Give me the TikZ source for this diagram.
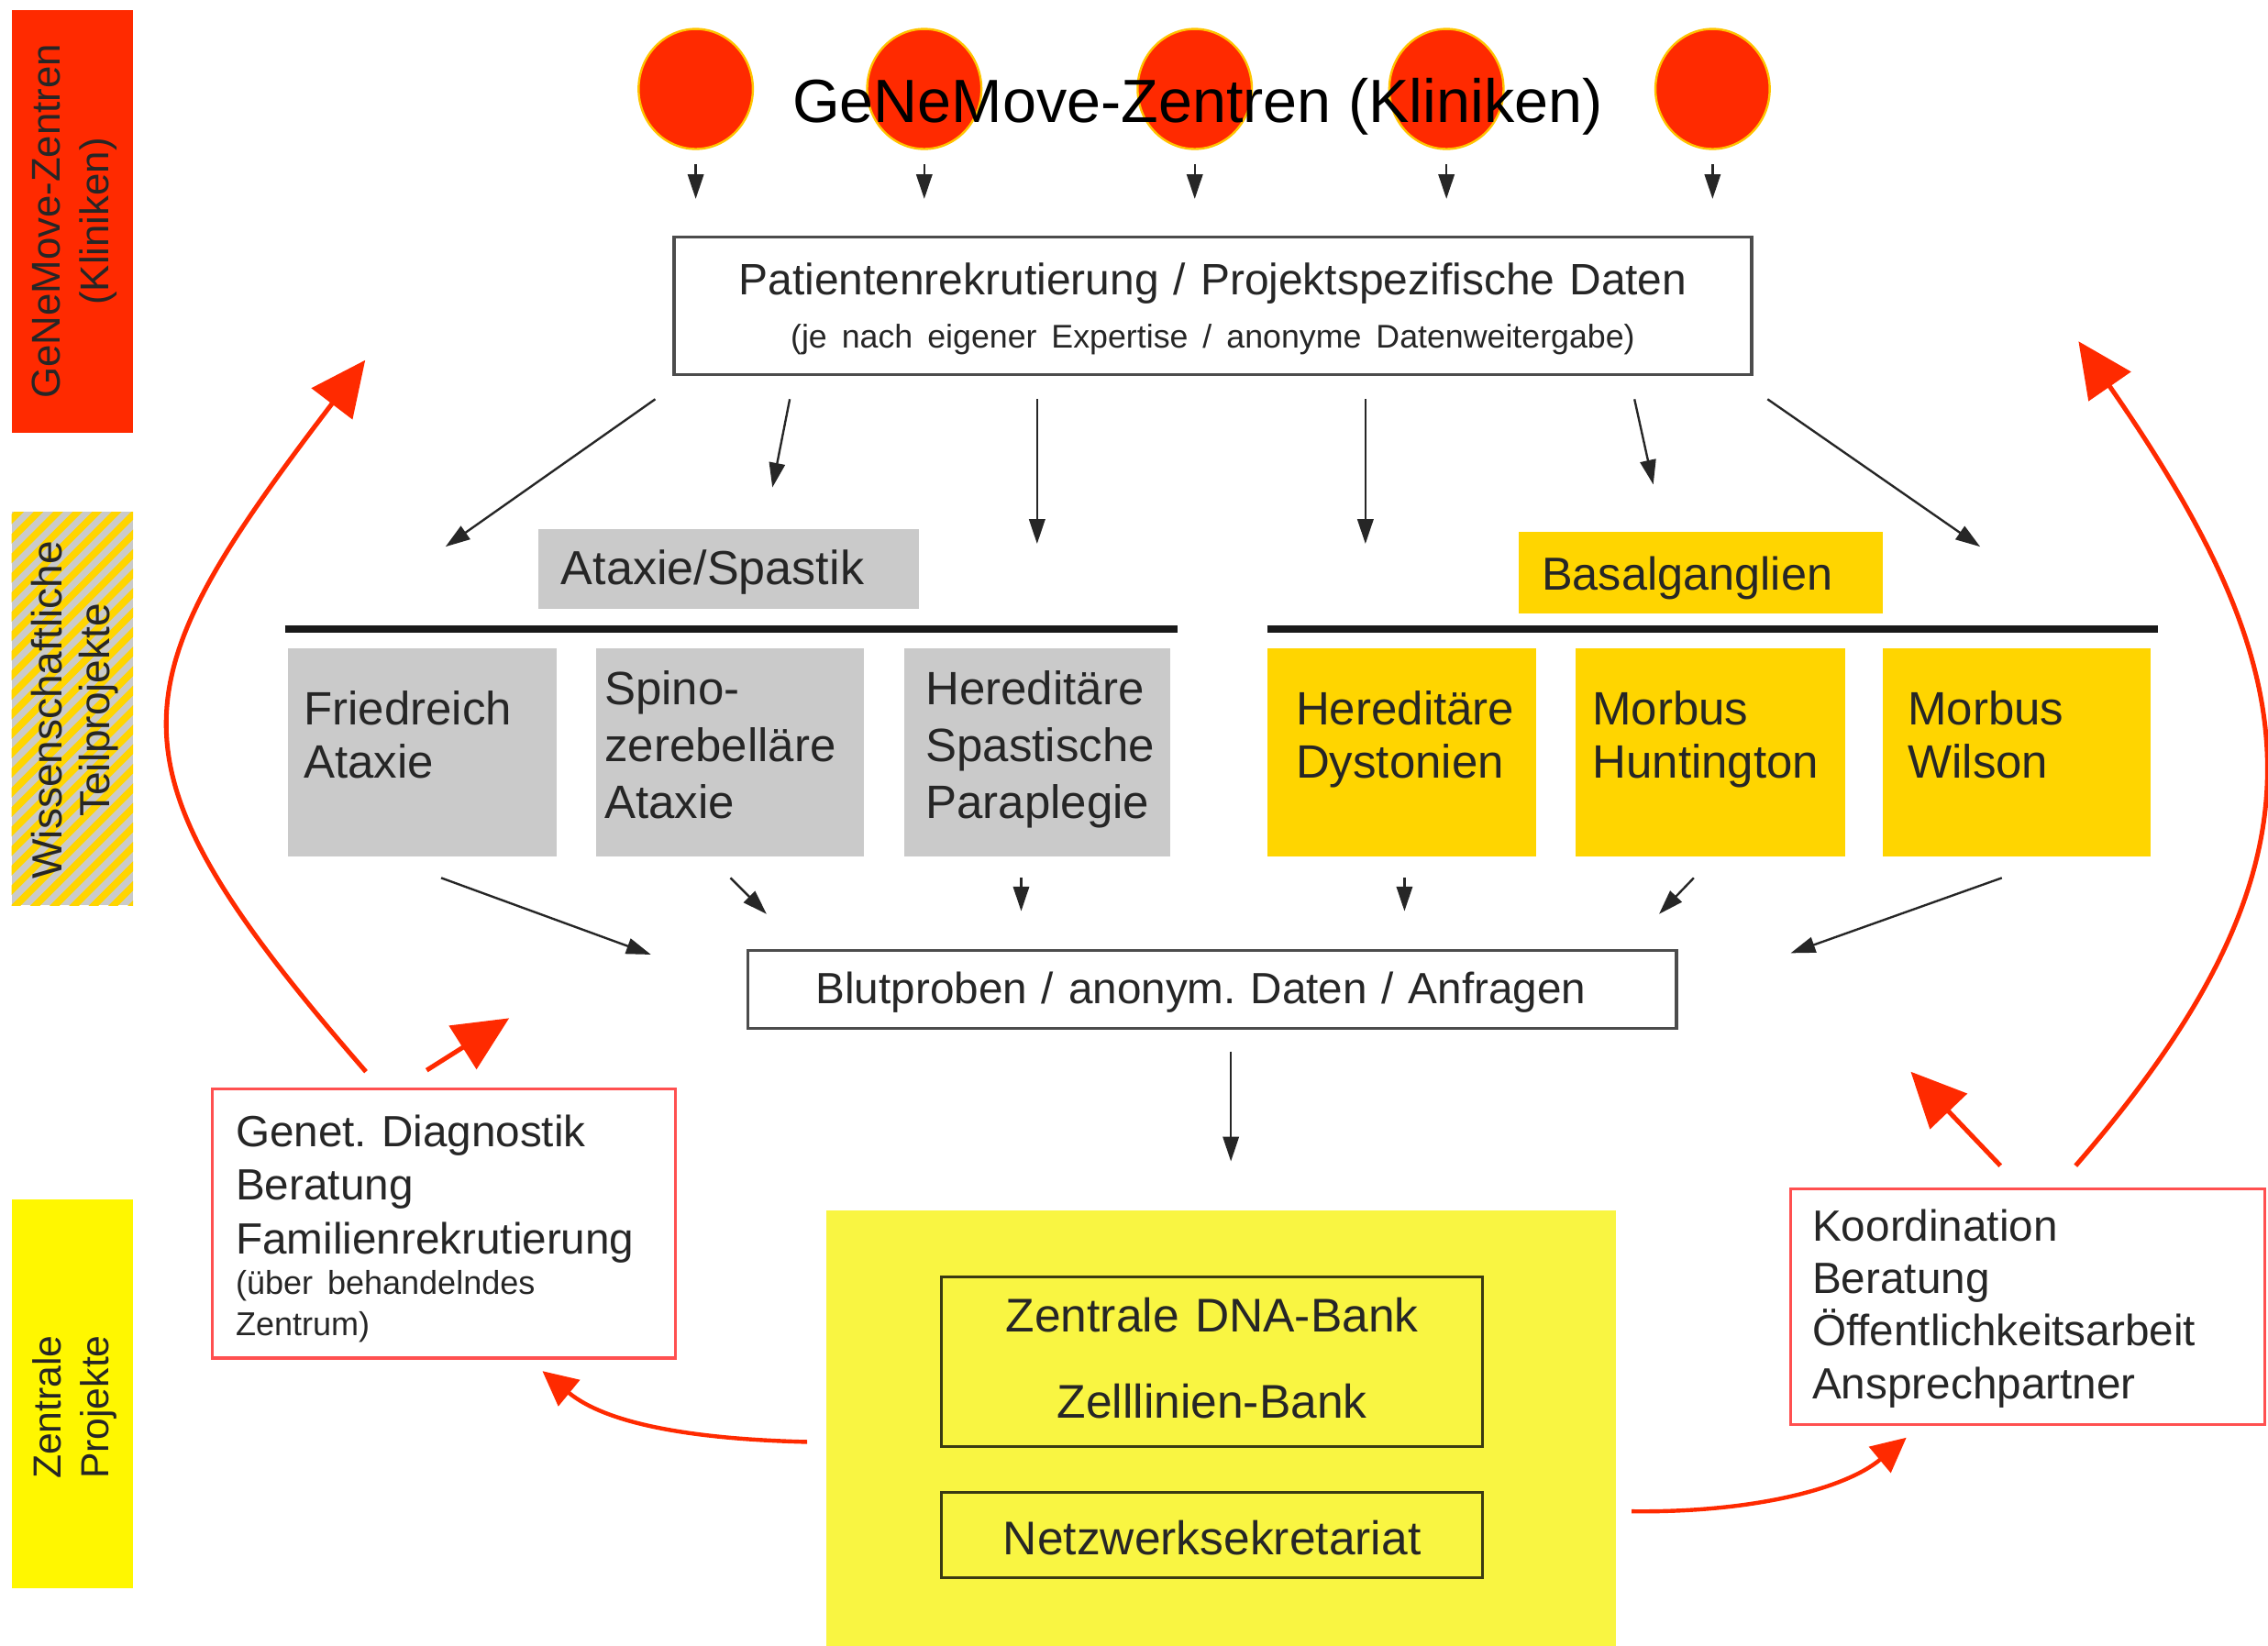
\documentclass[tikz,border=0pt]{standalone}
\usepackage{fontspec}
\setmainfont{Liberation Sans}
\usetikzlibrary{arrows.meta,calc,shapes.geometric}
\hfuzz=40pt
\definecolor{clinred}{HTML}{FF2A00}
\definecolor{rimyel}{HTML}{FFC400}
\definecolor{atxgray}{HTML}{CACACA}
\definecolor{bggold}{HTML}{FFD500}
\definecolor{centyel}{HTML}{F9F542}
\definecolor{baryel}{HTML}{FFF700}
\definecolor{ink}{HTML}{262626}
\definecolor{boxred}{HTML}{FF5050}
\definecolor{bankline}{HTML}{3A3A12}
\newcommand{\setfs}[2]{\fontsize{#1pt}{#2pt}\selectfont}

\begin{document}
\frenchspacing
\begin{tikzpicture}[x=0.1mm,y=-0.1mm,
  every node/.style={inner sep=0pt, outer sep=0pt, text=ink},
  clinic/.style={ellipse, fill=clinred, draw=rimyel, line width=0.15mm,
    minimum width=7.9mm, minimum height=8.3mm},
  sidetext/.style={rotate=90, align=center},
  blk/.style={draw=black!85, line width=0.15mm, -{Triangle[length=1.7mm,width=1.1mm]}},
  redarr/.style={draw=clinred, line width=0.32mm, -{Triangle[length=3.8mm,width=3.5mm]}},
  redsmall/.style={draw=clinred, line width=0.28mm, -{Triangle[length=2.4mm,width=2.3mm]}},
  outline/.style={draw=black!70, line width=0.2mm, fill=white},
  catbox/.style={anchor=north west, align=left, inner xsep=1.6mm},
  dis/.style={anchor=north west, align=left},
  dtwo/.style={text height=5.35mm, text depth=9.05mm, font=\setfs{9.2}{10.35}},
  dthree/.style={text height=3.9mm, text depth=10.5mm, font=\setfs{9.2}{11.2}},
  rule/.style={draw=black!90, line width=0.55mm},
  bankbox/.style={draw=bankline, line width=0.2mm, text width=37.4mm, align=center, anchor=north west},
  redbox/.style={draw=boxred, line width=0.2mm, fill=white, anchor=north west, align=left}
]
\path[use as bounding box, fill=white] (0,0) rectangle (1568,1138);

% ---- side bars ----
\node[fill=clinred, minimum width=8.4mm, minimum height=29.2mm] (barA) at (50,153) {};
\node[sidetext, font=\setfs{7.9}{9.4}] (barAt) at (51.5,153) {GeNeMove-Zentren\\(Kliniken)};

\begin{scope}
  \clip (8,354) rectangle (92,626);
  \fill[atxgray] (8,354) rectangle (92,626);
  \foreach \k in {0,...,30}
    \draw[bggold, line width=0.48mm] (0,{340+\k*13.5}) -- ++(110,-110);
\end{scope}
\node[sidetext, font=\setfs{8.3}{9.4}] (barBt) at (51.5,491) {Wissenschaftliche\\Teilprojekte};

\node[fill=baryel, minimum width=8.4mm, minimum height=26.9mm] (barC) at (50,963.5) {};
\node[sidetext, font=\setfs{7.7}{9.4}] (barCt) at (51.5,973) {Zentrale\\Projekte};

% ---- clinics ----
\foreach \n/\x in {c1/481,c2/639,c3/826,c4/1000,c5/1184}{
  \node[clinic] (\n) at (\x,61.5) {};
  \draw[blk] ($(\n.south)+(0,10.5)$) -- ($(\n.south)+(0,34.5)$);
}
\node[anchor=base, font=\setfs{12}{14}, text=black] (title) at (828,84.5) {GeNeMove-Zentren (Kliniken)};

% ---- recruitment box ----
\node[outline, anchor=north west, text width=74.5mm, align=center,
  text height=4.0mm, text depth=5.5mm, font=\setfs{8.65}{10.5}] (pat) at (466,164)
  {Patientenrekrutierung / Projektspezifische Daten\\{\setfs{6.45}{8}(je nach eigener Expertise / anonyme Datenweitergabe)}};

% ---- group labels and rules ----
\node[catbox, fill=atxgray, text width=23.1mm, text height=3.85mm, text depth=1.65mm,
  font=\setfs{9.4}{11}] (atx) at (372,366) {Ataxie/Spastik};
\node[catbox, fill=bggold, text width=22.0mm, text height=4.0mm, text depth=1.6mm,
  font=\setfs{9.1}{11}] (bas) at (1050,368) {Basalganglien};
\draw[rule] (197,435) -- (814,435);
\draw[rule] (876,435) -- (1492,435);

% ---- projects ----
\node[dis, dtwo, fill=atxgray, text width=16.4mm, inner xsep=1.1mm] (fa) at (199,448) {Friedreich\\Ataxie};
\node[dis, dthree, fill=atxgray, text width=17.3mm, inner xsep=0.6mm] (sca) at (412,448) {Spino-\\zerebelläre\\Ataxie};
\node[dis, dthree, fill=atxgray, text width=15.4mm, inner xsep=1.5mm] (hsp) at (625,448) {Hereditäre\\Spastische\\Paraplegie};
\node[dis, dtwo, fill=bggold, text width=14.6mm, inner xsep=2.0mm] (dys) at (876,448) {Hereditäre\\Dystonien};
\node[dis, dtwo, fill=bggold, text width=16.3mm, inner xsep=1.2mm] (hd) at (1089,448) {Morbus\\Huntington};
\node[dis, dtwo, fill=bggold, text width=15.1mm, inner xsep=1.7mm] (wd) at (1302,448) {Morbus\\Wilson};

% ---- samples box ----
\node[outline, anchor=north west, text width=54.8mm, inner xsep=4.7mm, align=left,
  text height=3.7mm, text depth=1.7mm, font=\setfs{8.6}{10}] (blut) at (517,657)
  {Blutproben / anonym. Daten / Anfragen};

% ---- central projects ----
\node[fill=centyel, anchor=north west, minimum width=54.6mm, minimum height=30.1mm] (cent) at (571,837) {};
\node[bankbox, text height=3.8mm, text depth=7.9mm, font=\setfs{9.3}{17}] (dna) at (651,883)
  {Zentrale DNA-Bank\\Zelllinien-Bank};
\node[bankbox, text height=4.3mm, text depth=1.6mm, font=\setfs{9.3}{11}] (sek) at (651,1032)
  {Netzwerksekretariat};

% ---- service boxes ----
\node[redbox, text width=28.8mm, inner xsep=1.6mm, text height=4.0mm, text depth=14.6mm,
  font=\setfs{8.6}{10.5}] (gen) at (147,753)
  {Genet. Diagnostik\\Beratung\\Familienrekrutierung\\[-0.9mm]{\setfs{6.5}{8}(über behandelndes}\\[-0.8mm]{\setfs{6.5}{8}Zentrum)}};
\node[redbox, text width=29.8mm, inner xsep=1.5mm, text height=3.6mm, text depth=12.7mm,
  font=\setfs{8.6}{10.35}] (koord) at (1238,822)
  {Koordination\\Beratung\\Öffentlichkeitsarbeit\\Ansprechpartner};

% ---- black flow arrows ----
\foreach \n/\xa/\ya/\xb/\yb in {
  pa/453/276/308/378, pb/546/276/534/337, pc/717/276/717/376,
  pd/944/276/944/376, pe/1130/276/1143/335, pf/1222/276/1369/378,
  ba/305/607/450/660, bb/505/607/530/632, bc/706/607/706/630,
  bd/971/607/971/630, be/1171/607/1147/632, bf/1384/607/1238/659,
  da/851/727/851/803}{
  \coordinate (\n s) at (\xa,\ya);
  \coordinate (\n e) at (\xb,\yb);
  \draw[blk] (\n s) -- (\n e);
}

% ---- red feedback arrows ----
\coordinate (rL0) at (253,741);  \coordinate (rL1) at (252.5,249);
\coordinate (sL0) at (295,740);  \coordinate (sL1) at (352,704);
\coordinate (rR0) at (1435,806); \coordinate (rR1) at (1437,236);
\coordinate (sR0) at (1383,806); \coordinate (sR1) at (1321,741);
\coordinate (bL0) at (558,997);  \coordinate (bL1) at (375,948);
\coordinate (bR0) at (1128,1045);\coordinate (bR1) at (1318,994);
\draw[redarr] (rL0) .. controls (66,526) and (79.5,476) .. (rL1);
\draw[redarr] (sL0) -- (sL1);
\draw[redarr] (rR0) .. controls (1619,594) and (1597,467) .. (rR1);
\draw[redarr] (sR0) -- (sR1);
\draw[redsmall] (bL0) .. controls (480,995) and (420,985) .. (bL1);
\draw[redsmall] (bR0) .. controls (1210,1046) and (1275,1030) .. (bR1);
\end{tikzpicture}
\end{document}
